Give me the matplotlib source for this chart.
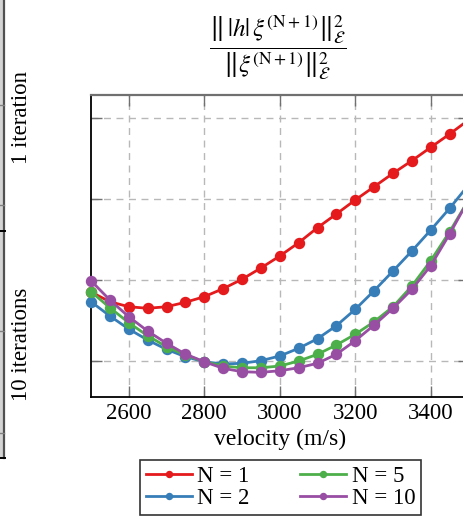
import matplotlib
matplotlib.use("Agg")
import matplotlib.pyplot as plt
from matplotlib.patches import Rectangle
from matplotlib.lines import Line2D

plt.rcParams['font.family'] = ['Liberation Serif', 'DejaVu Serif']
plt.rcParams['mathtext.fontset'] = 'stix'

velocity = [2500, 2550, 2600, 2650, 2700, 2750, 2800, 2850, 2900, 2950, 3000,
            3050, 3100, 3150, 3200, 3250, 3300, 3350, 3400, 3450, 3500]
n1 = [1.852, 1.732, 1.670, 1.651, 1.670, 1.725, 1.794, 1.893, 2.009, 2.148, 2.296,
      2.460, 2.646, 2.815, 2.988, 3.152, 3.317, 3.473, 3.638, 3.802, 3.975]
n2 = [1.732, 1.556, 1.395, 1.259, 1.144, 1.053, 0.991, 0.963, 0.972, 1.004, 1.062,
      1.157, 1.275, 1.436, 1.638, 1.868, 2.111, 2.358, 2.617, 2.885, 3.173]
n5 = [1.856, 1.658, 1.473, 1.312, 1.177, 1.074, 0.991, 0.938, 0.917, 0.917, 0.938,
      1.000, 1.083, 1.198, 1.330, 1.485, 1.670, 1.926, 2.238, 2.596, 2.988]
n10 = [1.991, 1.753, 1.547, 1.370, 1.219, 1.086, 0.991, 0.910, 0.868, 0.860, 0.880,
       0.917, 0.972, 1.083, 1.251, 1.444, 1.651, 1.885, 2.177, 2.568, 2.988]
labels = ['N = 1', 'N = 2', 'N = 5', 'N = 10']
colors = ['#e41a1c', '#377eb8', '#4daf4a', '#984ea3']
xticks = [2600, 2800, 3000, 3200, 3400]
yticks = [1, 2, 3, 4]

W, H = 463, 518
fig = plt.figure(figsize=(W / 100, H / 100), dpi=100)

# main axes (right edge extends past the crop)
L, R, T, B = 91, 468.5, 95, 396.5
ax = fig.add_axes([L / W, 1 - B / H, (R - L) / W, (B - T) / H])
ax.set_xlim(2500, 3500)
ax.set_ylim(0.562, 4.284)

lines = []
for ys, c, lab in zip([n1, n2, n5, n10], colors, labels):
    ln, = ax.plot(velocity, ys, color=c, lw=2.0, marker='o', ms=7.2,
                  label=lab, clip_on=False, zorder=3)
    lines.append(ln)

ax.set_xticks(xticks)
ax.set_yticks(yticks)
ax.set_yticklabels([])
ax.grid(True, color='#b8b8b8', ls=(0, (5, 4)), lw=1.0, zorder=0)
ax.tick_params(axis='both', direction='in', length=8, width=1.0, color='#707070',
               top=True, right=True, labelsize=16.5, pad=5)
ax.tick_params(axis='y', labelleft=False)
ax.spines['top'].set_color('#707070')
ax.spines['top'].set_linewidth(1.6)
ax.spines['left'].set_linewidth(1.3)
ax.spines['bottom'].set_linewidth(1.3)
ax.set_xlabel('velocity (m/s)', fontsize=17, labelpad=3)

fig.text(278 / W, 1 - 47 / H,
         r'$\dfrac{\left\Vert\,|h|\,\xi^{(\mathrm{N+1})}\right\Vert^{2}_{\mathcal{E}}}'
         r'{\left\Vert\xi^{(\mathrm{N+1})}\right\Vert^{2}_{\mathcal{E}}}$',
         ha='center', va='center', fontsize=18)

leg = fig.legend(handles=lines, ncol=2, loc='center',
                 bbox_to_anchor=(280.5 / W, 1 - 487.5 / H), fontsize=16.5,
                 frameon=True, fancybox=False, edgecolor='black',
                 markerscale=0.6, handlelength=2.0, handletextpad=0.25,
                 columnspacing=2.2, borderpad=0.25, labelspacing=0.05)
leg.get_frame().set_linewidth(1.2)

# row labels
fig.text(22 / W, 1 - 117 / H, '1 iteration', rotation=90, ha='center',
         va='center', fontsize=16.5)
fig.text(22 / W, 1 - 344 / H, '10 iterations', rotation=90, ha='center',
         va='center', fontsize=16.5)

# partial neighbouring panel on the far left
fig.patches.append(Rectangle((0, 1 - 458 / H), 3.5 / W, 458 / H,
                             transform=fig.transFigure, facecolor='#d4d4d4',
                             edgecolor='none'))
fig.lines.append(Line2D([4 / W, 4 / W], [1, 1 - 458 / H], transform=fig.transFigure,
                        color='#505050', lw=1.6))
for yy in [105, 205, 331, 433]:
    fig.lines.append(Line2D([0, 4 / W], [1 - yy / H] * 2, transform=fig.transFigure,
                            color='#808080', lw=1.0))
for yy in [231, 458]:
    fig.lines.append(Line2D([0, 4.5 / W], [1 - yy / H] * 2, transform=fig.transFigure,
                            color='black', lw=1.4))

fig.savefig('out.png', dpi=100)
